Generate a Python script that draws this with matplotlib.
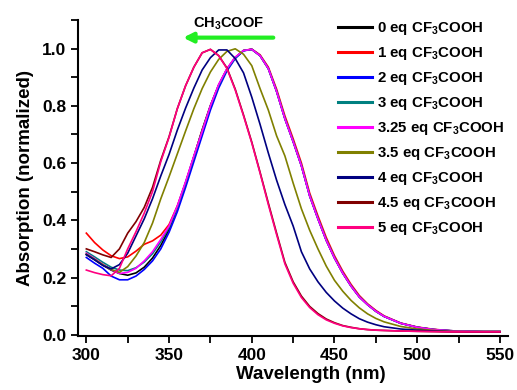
import matplotlib
matplotlib.use("Agg")
import matplotlib.pyplot as plt
from matplotlib.ticker import MultipleLocator

plt.rcParams['font.family'] = ['Liberation Sans', 'DejaVu Sans']
plt.rcParams['font.weight'] = 'bold'
plt.rcParams['mathtext.fontset'] = 'custom'
plt.rcParams['mathtext.rm'] = 'Liberation Sans:bold'
plt.rcParams['mathtext.default'] = 'rm'

# wavelength grid (nm)
wavelength = list(range(300, 485, 5)) + [490, 500, 510, 520, 530, 540, 550]

eq_0 = [0.280, 0.262, 0.243, 0.226, 0.214, 0.208, 0.216, 0.236, 0.268, 0.312,
        0.368, 0.445, 0.530, 0.622, 0.715, 0.800, 0.872, 0.928, 0.968, 0.993,
        0.997, 0.975, 0.930, 0.850, 0.755, 0.675, 0.590, 0.485, 0.405, 0.330,
        0.268, 0.215, 0.170, 0.132, 0.105, 0.082, 0.064,
        0.040, 0.026, 0.018, 0.014, 0.012, 0.011, 0.011]
eq_1 = [0.355, 0.322, 0.296, 0.276, 0.266, 0.272, 0.292, 0.316, 0.328, 0.348,
        0.385, 0.450, 0.532, 0.622, 0.715, 0.800, 0.872, 0.928, 0.968, 0.993,
        0.998, 0.978, 0.935, 0.858, 0.765, 0.685, 0.600, 0.495, 0.415, 0.340,
        0.276, 0.222, 0.176, 0.137, 0.108, 0.085, 0.066,
        0.041, 0.027, 0.019, 0.014, 0.012, 0.011, 0.011]
eq_2 = [0.270, 0.250, 0.232, 0.205, 0.192, 0.192, 0.205, 0.228, 0.258, 0.300,
        0.358, 0.430, 0.515, 0.605, 0.695, 0.785, 0.862, 0.922, 0.965, 0.992,
        0.997, 0.975, 0.930, 0.850, 0.755, 0.675, 0.590, 0.485, 0.405, 0.330,
        0.268, 0.215, 0.170, 0.132, 0.105, 0.082, 0.064,
        0.040, 0.026, 0.018, 0.014, 0.012, 0.011, 0.011]
eq_3 = [0.290, 0.272, 0.253, 0.236, 0.226, 0.224, 0.234, 0.254, 0.283, 0.325,
        0.375, 0.447, 0.532, 0.622, 0.713, 0.800, 0.872, 0.928, 0.968, 0.993,
        0.997, 0.975, 0.930, 0.852, 0.757, 0.677, 0.592, 0.487, 0.407, 0.332,
        0.270, 0.216, 0.171, 0.133, 0.105, 0.082, 0.064,
        0.040, 0.026, 0.018, 0.014, 0.012, 0.011, 0.011]
eq_325 = [0.285, 0.266, 0.246, 0.228, 0.214, 0.218, 0.232, 0.258, 0.290, 0.333,
          0.380, 0.450, 0.535, 0.625, 0.710, 0.800, 0.875, 0.930, 0.970, 0.993,
          0.997, 0.975, 0.930, 0.850, 0.755, 0.675, 0.590, 0.485, 0.405, 0.330,
          0.268, 0.215, 0.170, 0.132, 0.105, 0.082, 0.064,
          0.040, 0.026, 0.018, 0.014, 0.012, 0.011, 0.011]
eq_35 = [0.282, 0.264, 0.245, 0.228, 0.218, 0.238, 0.275, 0.322, 0.390, 0.475,
         0.552, 0.632, 0.712, 0.790, 0.860, 0.918, 0.962, 0.990, 0.999, 0.980,
         0.940, 0.860, 0.785, 0.695, 0.625, 0.530, 0.440, 0.365, 0.300, 0.240,
         0.190, 0.152, 0.120, 0.094, 0.073, 0.057, 0.045,
         0.029, 0.020, 0.015, 0.012, 0.011, 0.011, 0.011]
eq_4 = [0.280, 0.262, 0.242, 0.230, 0.245, 0.285, 0.345, 0.405, 0.475, 0.555,
        0.630, 0.715, 0.792, 0.862, 0.925, 0.968, 0.995, 0.995, 0.965, 0.915,
        0.830, 0.735, 0.635, 0.540, 0.455, 0.380, 0.290, 0.230, 0.185, 0.148,
        0.118, 0.093, 0.073, 0.056, 0.044, 0.035, 0.028,
        0.020, 0.016, 0.013, 0.011, 0.010, 0.010, 0.010]
eq_45 = [0.300, 0.290, 0.279, 0.270, 0.300, 0.355, 0.395, 0.445, 0.515, 0.610,
         0.692, 0.790, 0.870, 0.935, 0.985, 0.997, 0.975, 0.932, 0.858, 0.768,
         0.673, 0.568, 0.460, 0.355, 0.253, 0.185, 0.135, 0.099, 0.074, 0.055,
         0.042, 0.032, 0.026, 0.021, 0.018, 0.016, 0.015,
         0.013, 0.012, 0.011, 0.010, 0.010, 0.010, 0.010]
eq_5 = [0.226, 0.217, 0.210, 0.206, 0.232, 0.300, 0.360, 0.425, 0.500, 0.605,
        0.690, 0.790, 0.870, 0.935, 0.985, 0.997, 0.975, 0.930, 0.855, 0.765,
        0.670, 0.565, 0.455, 0.350, 0.248, 0.180, 0.130, 0.095, 0.070, 0.052,
        0.040, 0.031, 0.025, 0.021, 0.018, 0.016, 0.015,
        0.013, 0.012, 0.011, 0.010, 0.010, 0.010, 0.010]

series = [eq_0, eq_1, eq_2, eq_3, eq_325, eq_35, eq_4, eq_45, eq_5]
equivalents = ['0', '1', '2', '3', '3.25', '3.5', '4', '4.5', '5']
colors = ['#000000', '#ff0000', '#0000ff', '#008080', '#ff00ff',
          '#808000', '#000080', '#800000', '#ff0080']

fig = plt.figure(figsize=(5.17, 3.90), dpi=100)
ax = fig.add_axes([0.151, 0.138, 0.832, 0.811])

for y, eq, c in zip(series, equivalents, colors):
    ax.plot(wavelength, y, color=c, lw=1.2, label=f'{eq} eq CF$_3$COOH')

ax.set_xlim(295, 555)
ax.set_ylim(-0.005, 1.1)
ax.xaxis.set_major_locator(MultipleLocator(50))
ax.xaxis.set_minor_locator(MultipleLocator(25))
ax.yaxis.set_major_locator(MultipleLocator(0.2))
ax.yaxis.set_minor_locator(MultipleLocator(0.1))
ax.yaxis.set_major_formatter(plt.FormatStrFormatter('%.1f'))

for side in ['top', 'right']:
    ax.spines[side].set_visible(False)
for side in ['left', 'bottom']:
    ax.spines[side].set_linewidth(1.5)
ax.tick_params(which='both', direction='out', width=1.3, labelsize=12.5)
ax.tick_params(which='major', length=5)
ax.tick_params(which='minor', length=5)

ax.set_xlabel('Wavelength (nm)', fontsize=13.5, fontweight='bold', labelpad=4)
ax.xaxis.set_label_coords(0.54, -0.095)
ax.set_ylabel('Absorption (normalized)', fontsize=13.5, fontweight='bold', labelpad=6)

# shift direction marker
ax.annotate('', xy=(358.5, 1.038), xytext=(413, 1.038),
            arrowprops=dict(arrowstyle='-|>', color='#22ee22', lw=3,
                            mutation_scale=14, shrinkA=0, shrinkB=0))
ax.text(386, 1.088, 'CH$_3$COOF', ha='center', va='center', fontsize=10.5,
        fontweight='bold')

leg = ax.legend(loc='upper left', bbox_to_anchor=(0.639, 0.967),
                bbox_transform=fig.transFigure, frameon=False,
                fontsize=10.8, handlelength=2.3, handletextpad=0.3,
                labelspacing=0.53, borderpad=0)
for h in leg.get_lines():
    h.set_linewidth(2.2)

fig.savefig('out.png', dpi=100)
